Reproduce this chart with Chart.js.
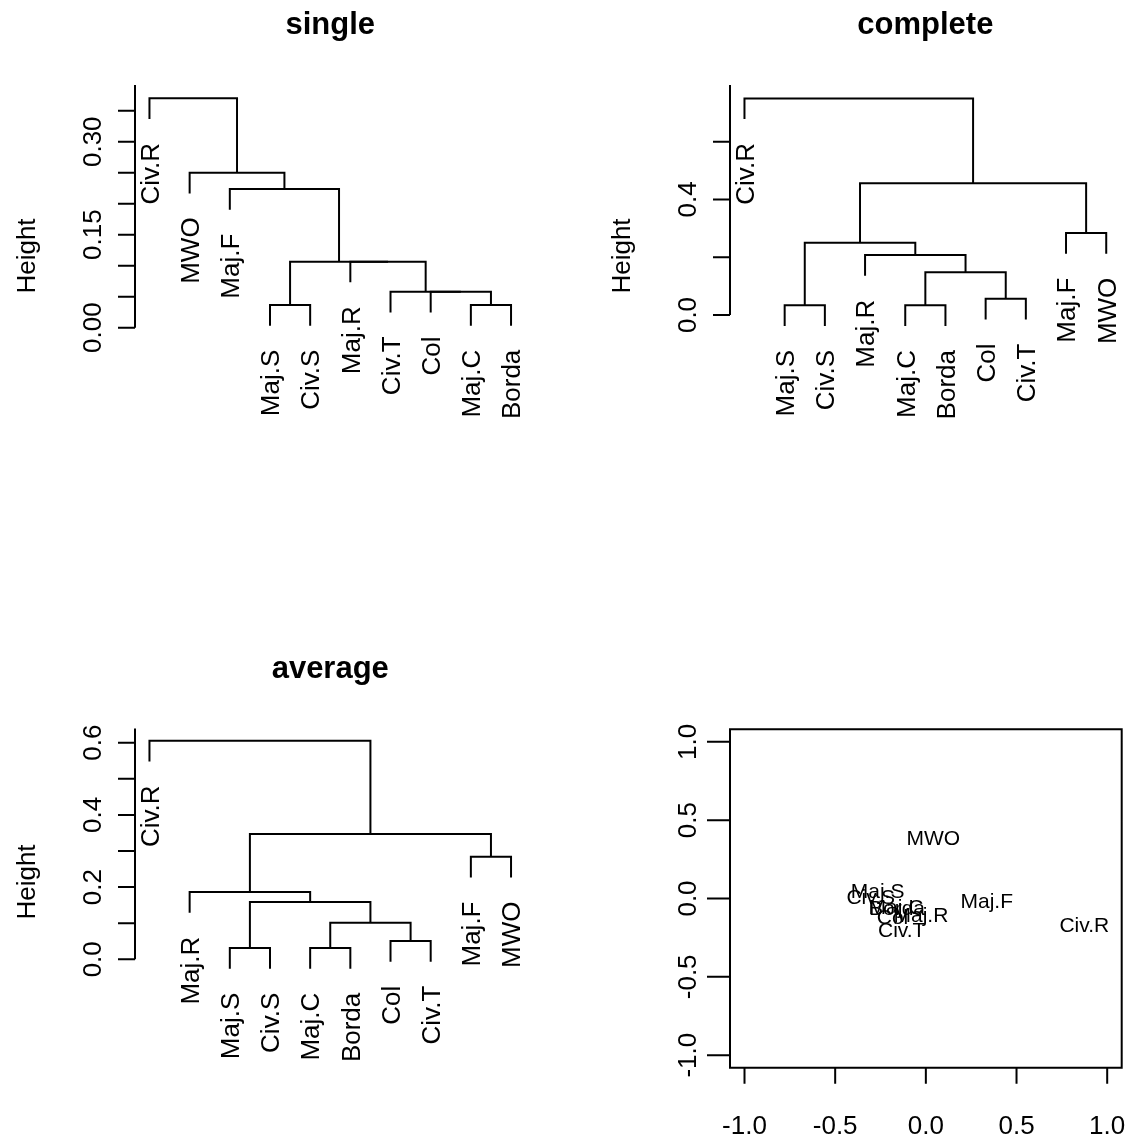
<!DOCTYPE html>
<html><head><meta charset="utf-8">
<script src="https://cdn.jsdelivr.net/npm/chart.js@4/dist/chart.umd.min.js"></script>
<style>
html,body{margin:0;padding:0;background:#fff;}
#wrap{position:relative;width:1129px;height:1139px;overflow:hidden;background:#fff;}
canvas{position:absolute;}
</style></head><body><div id="wrap">
<canvas id="c1" width="565" height="570" style="left:0px;top:0px"></canvas>
<canvas id="c2" width="564" height="570" style="left:565px;top:0px"></canvas>
<canvas id="c3" width="565" height="569" style="left:0px;top:570px"></canvas>
<canvas id="c4" width="564" height="569" style="left:565px;top:570px"></canvas>
</div>
<script>
// ---------- data ----------
// dendrogram leaf orders
const singleLeaves   = ["Civ.R","MWO","Maj.F","Maj.S","Civ.S","Maj.R","Civ.T","Col","Maj.C","Borda"];
const completeLeaves = ["Civ.R","Maj.S","Civ.S","Maj.R","Maj.C","Borda","Col","Civ.T","Maj.F","MWO"];
const averageLeaves  = ["Civ.R","Maj.R","Maj.S","Civ.S","Maj.C","Borda","Col","Civ.T","Maj.F","MWO"];
// merges: strings = leaves, numbers = earlier merge (1-based)
const singleMerges   = [["Maj.S","Civ.S"],["Maj.C","Borda"],["Col",2],["Civ.T",3],["Maj.R",4],[1,5],["Maj.F",6],["MWO",7],["Civ.R",8]];
const singleHeights  = [0.0366,0.0366,0.058,0.058,0.1065,0.1065,0.2237,0.25,0.370];
const completeMerges = [["Maj.S","Civ.S"],["Maj.C","Borda"],["Col","Civ.T"],[2,3],["Maj.R",4],[1,5],["Maj.F","MWO"],[6,7],["Civ.R",8]];
const completeHeights= [0.0335,0.0335,0.056,0.148,0.2076,0.25,0.284,0.456,0.75];
const averageMerges  = [["Maj.S","Civ.S"],["Maj.C","Borda"],["Col","Civ.T"],[2,3],[1,4],["Maj.R",5],["Maj.F","MWO"],[6,7],["Civ.R",8]];
const averageHeights = [0.0313,0.0313,0.0507,0.1014,0.159,0.1864,0.284,0.347,0.6055];
// axis ticks
const singleTicks = [0,0.05,0.10,0.15,0.20,0.25,0.30,0.35];
const singleTickLabels = ["0.00","","","0.15","","","0.30",""];
const completeTicks = [0,0.2,0.4,0.6];
const completeTickLabels = ["0.0","","0.4",""];
const averageTicks = [0,0.1,0.2,0.3,0.4,0.5,0.6];
const averageTickLabels = ["0.0","","0.2","","0.4","","0.6"];
// scatter (MDS) labels and coordinates
const mdsLabels = ["Maj.S","Civ.S","Maj.R","Civ.T","Col","Maj.C","Borda","MWO","Maj.F","Civ.R"];
const mdsX = [-0.266,-0.304,-0.027,-0.133,-0.184,-0.165,-0.159,0.041,0.336,0.874];
const mdsY = [0.048,0.016,-0.099,-0.197,-0.115,-0.048,-0.057,0.391,-0.010,-0.165];
const mdsTicks = [-1.0,-0.5,0.0,0.5,1.0];
const mdsTickLabels = ["-1.0","-0.5","0.0","0.5","1.0"];

// ---------- helpers ----------
const FONT = '"Liberation Sans", Arial, Helvetica, sans-serif';
function dendro(leaves, merges, heights){
  const hang = 0.1*(Math.max(...heights)-Math.min(...heights));
  const pos = [], datasets = [], leafEnds = {};
  merges.forEach((m,i)=>{
    const h = heights[i];
    const ch = m.map(c=>{
      if (typeof c === 'number') return {x:pos[c-1], y:heights[c-1]};
      const x = leaves.indexOf(c)+1; leafEnds[c] = h-hang; return {x:x, y:h-hang};
    });
    datasets.push({data:[{x:ch[0].x,y:ch[0].y},{x:ch[0].x,y:h},{x:ch[1].x,y:h},{x:ch[1].x,y:ch[1].y}],
      borderColor:'#000', borderWidth:2, pointRadius:0, fill:false, tension:0, showLine:true});
    pos[i] = (ch[0].x+ch[1].x)/2;
  });
  return {datasets, leafEnds};
}

const rPlugin = {
  id:'rdecor',
  afterDraw(chart, args, o){
    const ctx = chart.ctx, a = chart.chartArea, xs = chart.scales.x, ys = chart.scales.y;
    ctx.save();
    ctx.fillStyle = '#000'; ctx.strokeStyle = '#000'; ctx.lineWidth = 2; ctx.lineCap = 'butt';
    if (o.title){
      ctx.font = 'bold 31px '+FONT; ctx.textAlign='center'; ctx.textBaseline='alphabetic';
      ctx.fillText(o.title, (a.left+a.right)/2, a.top-51);
    }
    // left axis
    const ax = a.left;
    ctx.beginPath();
    if (o.box){
      ctx.rect(a.left, a.top, a.right-a.left, a.bottom-a.top);
    } else {
      ctx.moveTo(ax, ys.getPixelForValue(o.yTicks[0])); ctx.lineTo(ax, a.top);
    }
    o.yTicks.forEach(v=>{const y=ys.getPixelForValue(v); ctx.moveTo(ax,y); ctx.lineTo(ax-o.yTickLen,y);});
    ctx.stroke();
    ctx.font = '26px '+FONT; ctx.textAlign='center'; ctx.textBaseline='alphabetic';
    o.yTickLabels.forEach((lab,i)=>{
      if(!lab) return;
      const y = ys.getPixelForValue(o.yTicks[i]);
      ctx.save(); ctx.translate(ax-34, y); ctx.rotate(-Math.PI/2); ctx.fillText(lab,0,0); ctx.restore();
    });
    if (o.ylab){
      ctx.save(); ctx.translate(ax-100, (a.top+a.bottom)/2); ctx.rotate(-Math.PI/2); ctx.fillText(o.ylab,0,0); ctx.restore();
    }
    // bottom axis (scatter)
    if (o.xTicks){
      ctx.beginPath();
      o.xTicks.forEach(v=>{const x=xs.getPixelForValue(v); ctx.moveTo(x,a.bottom); ctx.lineTo(x,a.bottom+16);});
      ctx.stroke();
      o.xTickLabels.forEach((lab,i)=>{ ctx.fillText(lab, xs.getPixelForValue(o.xTicks[i]), a.bottom+66); });
    }
    // leaf labels
    if (o.leaves){
      const cap = 26*0.716;
      o.leaves.forEach((lab,i)=>{
        const x = xs.getPixelForValue(i+1), y = ys.getPixelForValue(o.leafEnds[lab]) + 24;
        ctx.save(); ctx.translate(x,y); ctx.rotate(-Math.PI/2); ctx.textAlign='right';
        ctx.fillText(lab, 0, cap/2); ctx.restore();
      });
    }
    // point labels
    if (o.pointLabels){
      ctx.font = '21px '+FONT; ctx.textAlign='center';
      const meta = chart.getDatasetMeta(0);
      meta.data.forEach((el,i)=>{ ctx.fillText(o.pointLabels[i], el.x, el.y + 21*0.716/2); });
    }
    ctx.restore();
  }
};

function dendroChart(id, leaves, merges, heights, pad, ymin, ymax, title, ticks, tickLabels){
  const d = dendro(leaves, merges, heights);
  return new Chart(document.getElementById(id), {
    type:'scatter',
    data:{datasets:d.datasets},
    options:{
      responsive:false, animation:false, devicePixelRatio:1,
      layout:{padding:pad},
      plugins:{legend:{display:false}, tooltip:{enabled:false},
        rdecor:{title:title, yTicks:ticks, yTickLabels:tickLabels, yTickLen:17, ylab:'Height', leaves:leaves, leafEnds:d.leafEnds}},
      scales:{x:{type:'linear',display:false,min:0.64,max:10.36},
              y:{type:'linear',display:false,min:ymin,max:ymax}}
    },
    plugins:[rPlugin]
  });
}

dendroChart('c1', singleLeaves, singleMerges, singleHeights,
  {left:135,right:39.5,top:85,bottom:143}, -0.1602, 0.3915, 'single', singleTicks, singleTickLabels);
dendroChart('c2', completeLeaves, completeMerges, completeHeights,
  {left:165,right:8.3,top:85,bottom:143}, -0.3878, 0.7964, 'complete', completeTicks, completeTickLabels);
dendroChart('c3', averageLeaves, averageMerges, averageHeights,
  {left:135,right:39.5,top:158.5,bottom:103.5}, -0.2111, 0.6393, 'average', averageTicks, averageTickLabels);

new Chart(document.getElementById('c4'), {
  type:'scatter',
  data:{datasets:[{data:mdsX.map((x,i)=>({x:x,y:mdsY[i]})), pointRadius:0, borderWidth:0}]},
  options:{
    responsive:false, animation:false, devicePixelRatio:1,
    layout:{padding:{left:165,right:7.3,top:159.3,bottom:71.3}},
    plugins:{legend:{display:false}, tooltip:{enabled:false},
      rdecor:{box:true, yTicks:mdsTicks, yTickLabels:mdsTickLabels, yTickLen:23,
              xTicks:mdsTicks, xTickLabels:mdsTickLabels, pointLabels:mdsLabels}},
    scales:{x:{type:'linear',display:false,min:-1.08,max:1.08},
            y:{type:'linear',display:false,min:-1.08,max:1.08}}
  },
  plugins:[rPlugin]
});
</script></body></html>
